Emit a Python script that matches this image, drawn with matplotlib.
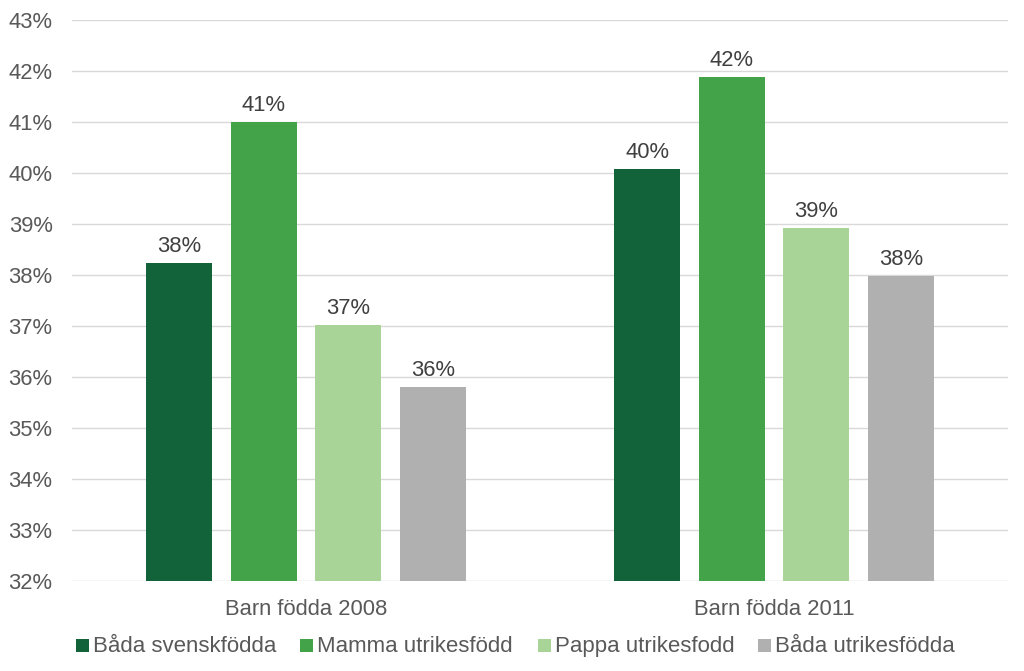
import matplotlib
matplotlib.use("Agg")
import matplotlib.pyplot as plt
from matplotlib.patches import Rectangle
import numpy as np

categories = ["Barn födda 2008", "Barn födda 2011"]
series_names = ["Båda svenskfödda", "Mamma utrikesfödd", "Pappa utrikesfodd", "Båda utrikesfödda"]
values = {
    "Båda svenskfödda": [38.24, 40.08],
    "Mamma utrikesfödd": [41.0, 41.88],
    "Pappa utrikesfodd": [37.02, 38.92],
    "Båda utrikesfödda": [35.8, 37.98],
}
colors = ["#12633A", "#43A348", "#A8D597", "#B0B0B0"]
yticks = list(range(32, 44))

plt.rcParams['font.family'] = ['Liberation Sans', 'DejaVu Sans']

W, H = 1024, 671
fig = plt.figure(figsize=(W / 100, H / 100), dpi=100)
ax = fig.add_axes([72 / W, 1 - 581 / H, 936 / W, 561 / H])

x = np.arange(len(categories))
width = 0.141
step = 0.1805
for i, name in enumerate(series_names):
    pos = x + (i - 1.5) * step
    vals = values[name]
    ax.bar(pos, [v - 32 for v in vals], width, bottom=32, color=colors[i], label=name, zorder=3)
    for p, v in zip(pos, vals):
        ax.text(p, v + 0.12, f"{round(v):.0f}%", ha="center", va="bottom", fontsize=15.8, color="#404040")

ax.set_xlim(-0.5, 1.5)
ax.set_ylim(32, 43)
ax.set_yticks(yticks)
ax.set_yticklabels([f"{t}%" for t in yticks])
ax.set_xticks(x)
ax.set_xticklabels(categories)
ax.tick_params(axis='both', length=0, labelsize=15.8, colors="#595959")
ax.tick_params(axis='x', pad=13)
ax.tick_params(axis='y', pad=14)
ax.grid(axis='y', color="#D9D9D9", linewidth=1, zorder=0)
for s in ["top", "right", "left", "bottom"]:
    ax.spines[s].set_visible(False)

# Legend drawn manually so all labels share one baseline
legend_marker_x = [76, 300, 538, 758]
marker_size = 13
baseline_y = 652
for i, name in enumerate(series_names):
    mx = legend_marker_x[i]
    fig.patches.append(Rectangle((mx / W, 1 - baseline_y / H), marker_size / W, marker_size / H,
                                 transform=fig.transFigure, facecolor=colors[i], edgecolor="none"))
    fig.text((mx + 17) / W, 1 - baseline_y / H, name, ha="left", va="baseline",
             fontsize=16, color="#595959")

fig.savefig("out.png", dpi=100)
